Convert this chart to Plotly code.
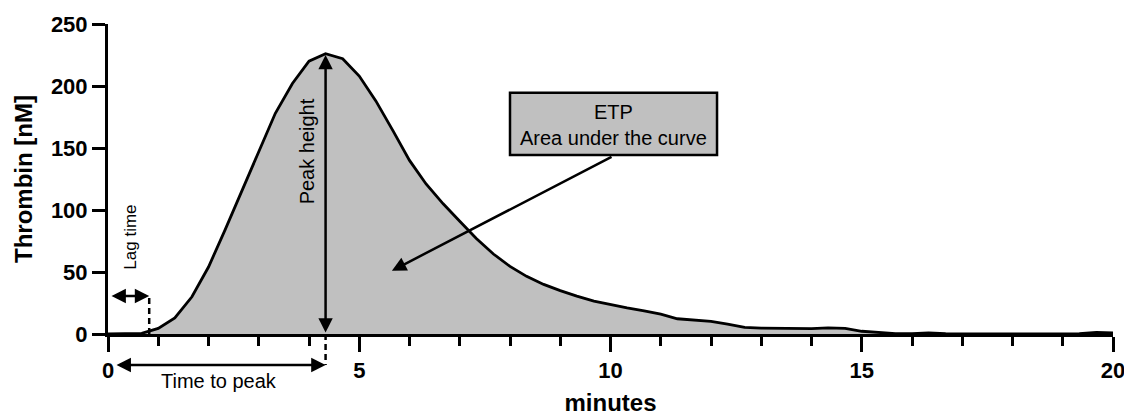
import plotly.graph_objects as go

# ---- data ----
time_min = [0.00, 0.33, 0.67, 1.00, 1.33, 1.67, 2.00, 2.33, 2.67, 3.00,
            3.33, 3.67, 4.00, 4.33, 4.67, 5.00, 5.33, 5.67, 6.00, 6.33,
            6.67, 7.00, 7.33, 7.67, 8.00, 8.33, 8.67, 9.00, 9.33, 9.67,
            10.00, 10.33, 10.67, 11.00, 11.33, 11.67, 12.00, 12.33, 12.67, 13.00,
            13.33, 13.67, 14.00, 14.33, 14.67, 15.00, 15.33, 15.67, 16.00, 16.33,
            16.67, 17.00, 17.33, 17.67, 18.00, 18.33, 18.67, 19.00, 19.33, 19.67,
            20.00]
thrombin_nM = [0, 0, 0.5, 4.5, 13, 30, 54, 84, 116, 148,
               178, 202, 220, 226, 222, 208, 188, 164, 140, 121,
               105, 91, 77, 64.5, 54.5, 46.5, 40, 35, 30.5, 26.5,
               23.5, 21, 18.7, 16, 12.3, 11, 10.2, 8, 5.3, 4.8,
               4.6, 4.4, 4.3, 5, 4.6, 2.2, 1, 0.3, 0.2, 0.8,
               0.3, 0, 0, 0, 0, 0, 0, 0, 0.2, 1.2,
               0.8]

x_ticks = [0, 5, 10, 15, 20]
y_ticks = [0, 50, 100, 150, 200, 250]

lag_time = 0.82
lag_arrow_level = 30.6
peak_time = 4.33
peak_value = 225
etp_box_x = [8.0, 12.12]
etp_box_y = [144.4, 194.6]
etp_arrow_tail = (10.05, 143.5)
etp_arrow_head = (5.65, 51)

FONT = "Liberation Sans, Arial, sans-serif"
GRAY = "#c0c0c0"

fig = go.Figure()
fig.add_trace(go.Scatter(
    x=time_min, y=thrombin_nM, mode="lines",
    line=dict(color="black", width=2.8),
    fill="tozeroy", fillcolor=GRAY, hoverinfo="skip", showlegend=False,
))

shapes = [
    # lag time dashed marker
    dict(type="line", xref="x", yref="y", x0=lag_time, x1=lag_time,
         y0=0, y1=lag_arrow_level, line=dict(color="black", width=2.5, dash="6px,4px")),
    # time to peak dashed marker (below axis)
    dict(type="line", xref="x", yref="paper", x0=peak_time, x1=peak_time,
         y0=0, y1=-0.1, line=dict(color="black", width=2.5, dash="6px,4px")),
    # ETP box
    dict(type="rect", xref="x", yref="y", x0=etp_box_x[0], x1=etp_box_x[1],
         y0=etp_box_y[0], y1=etp_box_y[1], fillcolor=GRAY,
         line=dict(color="black", width=2.5), layer="above"),
]

arrow_common = dict(showarrow=True, text="", arrowhead=2, arrowsize=1.15,
                    arrowwidth=2.5, arrowcolor="black", standoff=0, startstandoff=0)

annotations = [
    # peak height double arrow
    dict(x=peak_time, y=peak_value, ax=peak_time, ay=0, xref="x", yref="y",
         axref="x", ayref="y", arrowside="end+start", startarrowhead=2,
         startarrowsize=1.15, **arrow_common),
    # lag time double arrow
    dict(x=lag_time, y=lag_arrow_level, ax=0.04, ay=lag_arrow_level, xref="x", yref="y",
         axref="x", ayref="y", arrowside="end+start", startarrowhead=2,
         startarrowsize=1.15, **arrow_common),
    # time to peak double arrow (below axis)
    dict(x=peak_time, y=-0.1, ax=0.14, ay=0, xref="x", yref="paper",
         axref="x", ayref="pixel", arrowside="end+start", startarrowhead=2,
         startarrowsize=1.15, **arrow_common),
    # ETP arrow
    dict(x=etp_arrow_head[0], y=etp_arrow_head[1], ax=etp_arrow_tail[0], ay=etp_arrow_tail[1],
         xref="x", yref="y", axref="x", ayref="y", arrowside="end", **arrow_common),
    # texts
    dict(x=3.95, y=147.7, xref="x", yref="y", text="Peak height", showarrow=False,
         textangle=-90, font=dict(family=FONT, size=20, color="black")),
    dict(x=0.44, y=77.8, xref="x", yref="y", text="Lag time", showarrow=False,
         textangle=-90, font=dict(family=FONT, size=17, color="black")),
    dict(x=2.21, y=-0.152, xref="x", yref="paper", text="Time to peak", showarrow=False,
         yanchor="middle", font=dict(family=FONT, size=20, color="black")),
    dict(x=sum(etp_box_x) / 2, y=179.3, xref="x", yref="y", text="ETP", showarrow=False,
         font=dict(family=FONT, size=20, color="black")),
    dict(x=sum(etp_box_x) / 2, y=158, xref="x", yref="y", text="Area under the curve",
         showarrow=False, font=dict(family=FONT, size=20, color="black")),
]

# The page body has an 8px default margin, so the figure is sized to fill the
# remaining window area.
fig.update_layout(
    width=1124, height=408,
    margin=dict(l=100, r=19, t=16, b=82, autoexpand=False),
    paper_bgcolor="white", plot_bgcolor="white",
    font=dict(family=FONT, color="black"),
    shapes=shapes, annotations=annotations,
    showlegend=False,
)
fig.update_xaxes(
    range=[0, 20], tickvals=x_ticks, ticktext=[str(v) for v in x_ticks],
    showline=True, linecolor="black", linewidth=3,
    ticks="outside", ticklen=15, tickwidth=3, tickcolor="black",
    minor=dict(dtick=1, ticks="outside", ticklen=9, tickwidth=3, tickcolor="black", showgrid=False),
    showgrid=False, zeroline=False,
    tickfont=dict(family=FONT, size=22, color="black", weight="bold"),
    title=dict(text="minutes", font=dict(family=FONT, size=24, color="black", weight="bold"),
               standoff=18),
)
fig.update_yaxes(
    range=[0, 250], tickvals=y_ticks, ticktext=[str(v) for v in y_ticks],
    showline=True, linecolor="black", linewidth=3,
    ticks="outside", ticklen=13, tickwidth=3, tickcolor="black",
    showgrid=False, zeroline=False,
    tickfont=dict(family=FONT, size=22, color="black", weight="bold"),
    title=dict(text="Thrombin [nM]", font=dict(family=FONT, size=24, color="black", weight="bold"),
               standoff=12),
)

fig.write_html("out.html")
